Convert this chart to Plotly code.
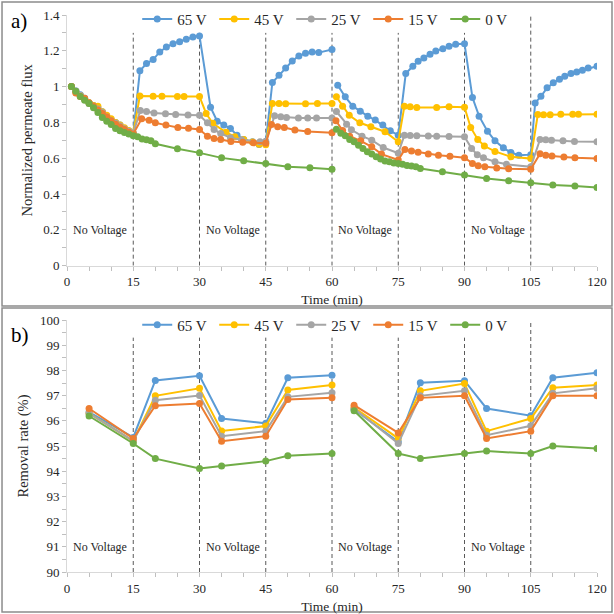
import plotly.graph_objects as go

# ---------------- data: panel a (normalized permeate flux) ----------------
seg1_t = [1, 2, 3, 4, 5, 6, 7, 8, 9, 10, 11, 12, 13, 14, 15]

t65 = seg1_t + [16.5, 18, 19.5, 21, 22.5, 24, 25.5, 27, 28.5, 30,
                32.5, 34, 35.5, 37, 38.5, 40, 42, 43.5, 45,
                46.5, 48, 49.5, 51, 52.5, 54, 55.5, 57, 60, None,
                61.3, 63, 64.7, 66.4, 68.1, 69.8, 71.5, 73.2, 75,
                76.7, 78.3, 79.5, 80.8, 82.2, 83.5, 85.1, 86.5, 88, 90,
                91.8, 93.3, 95.2, 96.9, 98.8, 100.5, 102.3, 105,
                106, 107.3, 108.7, 110.1, 111.5, 112.7, 114.1, 115.4, 116.7, 118, 120]
f65 = [1.0, 0.975, 0.955, 0.935, 0.91, 0.895, 0.88, 0.86, 0.835, 0.815, 0.80, 0.785, 0.765, 0.75, 0.74,
       1.088, 1.129, 1.151, 1.194, 1.221, 1.240, 1.251, 1.264, 1.277, 1.283,
       0.885, 0.807, 0.785, 0.766, 0.729, 0.705, 0.692, 0.677, 0.688,
       1.023, 1.063, 1.104, 1.143, 1.171, 1.186, 1.194, 1.19, 1.207, None,
       1.008, 0.943, 0.891, 0.863, 0.835, 0.813, 0.785, 0.753, 0.729,
       1.073, 1.114, 1.142, 1.160, 1.181, 1.199, 1.212, 1.225, 1.236, 1.240,
       0.939, 0.835, 0.751, 0.697, 0.658, 0.632, 0.617, 0.62,
       0.909, 0.946, 0.993, 1.021, 1.041, 1.058, 1.073, 1.082, 1.091, 1.104, 1.114]

t45 = seg1_t + [16.5, 19.5, 21.5, 25, 26.5, 30,
                31.5, 33, 36, 38, 40, 42, 43.5, 45,
                46.5, 48, 49.5, 54, 56.7, 60, None,
                61, 62.4, 63.9, 66.3, 68.8, 72, 75,
                76.4, 77.7, 79.2, 83.7, 86.5, 90,
                91.4, 93, 94.5, 96.9, 100.5, 105,
                106.6, 107.9, 109.4, 111.8, 114.5, 115.8, 120]
f45 = [1.0, 0.97, 0.95, 0.93, 0.91, 0.895, 0.89, 0.86, 0.84, 0.82, 0.80, 0.785, 0.77, 0.755, 0.74,
       0.948, 0.946, 0.946, 0.945, 0.945, 0.945,
       0.85, 0.795, 0.745, 0.72, 0.705, 0.69, 0.678, 0.675,
       0.905, 0.905, 0.904, 0.904, 0.905, 0.906, None,
       0.943, 0.891, 0.840, 0.798, 0.776, 0.748, 0.692,
       0.891, 0.887, 0.884, 0.884, 0.887, 0.885,
       0.772, 0.705, 0.668, 0.638, 0.608, 0.598,
       0.844, 0.843, 0.843, 0.845, 0.845, 0.846, 0.846]

t25 = seg1_t + [16.6, 18, 19.7, 22.3, 24.6, 27.4, 30,
                31.8, 33.3, 34.8, 37, 39.5, 43.7, 45,
                47, 48.4, 49.7, 52.4, 54.5, 56.5, 60, None,
                61, 63.3, 64.4, 66.8, 69, 71.6, 75,
                76.4, 77.7, 79.2, 81.8, 83.7, 86.5, 90,
                91.6, 92.9, 94.3, 96.9, 99.5, 105,
                107.1, 108.4, 109.7, 112.3, 114.9, 120]
f25 = [1.0, 0.975, 0.95, 0.93, 0.905, 0.89, 0.875, 0.855, 0.83, 0.81, 0.795, 0.78, 0.765, 0.75, 0.74,
       0.866, 0.861, 0.853, 0.848, 0.844, 0.842, 0.84,
       0.798, 0.761, 0.738, 0.715, 0.703, 0.692, 0.695,
       0.837, 0.831, 0.828, 0.825, 0.824, 0.824, 0.825, None,
       0.861, 0.79, 0.759, 0.723, 0.701, 0.66, 0.628,
       0.729, 0.727, 0.726, 0.724, 0.723, 0.721, 0.72,
       0.655, 0.619, 0.602, 0.58, 0.566, 0.552,
       0.705, 0.703, 0.70, 0.697, 0.694, 0.692]

t15 = seg1_t + [16.9, 18.6, 20, 22.4, 25.1, 27.5, 30,
                31.8, 33.3, 34.8, 37.1, 39.8, 42.2, 45,
                46.3, 47.7, 49.2, 51.6, 54.5, 60, None,
                60.9, 62.4, 64, 66.5, 69, 71.2, 75,
                76.5, 78, 79.5, 81.8, 84.1, 86.7, 90,
                91.8, 93.1, 94.6, 97.3, 100, 105,
                107.1, 108.4, 109.8, 112.5, 115, 120]
f15 = [1.0, 0.965, 0.945, 0.935, 0.91, 0.89, 0.87, 0.85, 0.83, 0.81, 0.79, 0.775, 0.76, 0.745, 0.735,
       0.82, 0.812, 0.798, 0.785, 0.772, 0.768, 0.761,
       0.723, 0.71, 0.705, 0.694, 0.689, 0.686, 0.683,
       0.789, 0.776, 0.771, 0.758, 0.749, 0.743, None,
       0.809, 0.755, 0.723, 0.697, 0.664, 0.623, 0.59,
       0.649, 0.64, 0.634, 0.623, 0.616, 0.611, 0.603,
       0.571, 0.558, 0.552, 0.545, 0.541, 0.538,
       0.625, 0.617, 0.612, 0.607, 0.602, 0.598]

t0 = seg1_t + [16, 17, 18, 19, 20, 25, 30, 35, 40, 45, 50, 55, 60, None,
               61, 62, 63, 64, 65, 66, 67, 68, 69, 70, 71, 72, 73, 74, 75,
               76, 77, 78, 79, 80, 85, 90, 95, 100, 105, 110, 115, 120]
f0 = [1.0, 0.974, 0.945, 0.924, 0.906, 0.882, 0.855, 0.828, 0.807, 0.789, 0.766, 0.753, 0.744, 0.735, 0.725,
      0.72, 0.708, 0.703, 0.697, 0.681, 0.653, 0.63, 0.602, 0.586, 0.571, 0.553, 0.547, 0.538, None,
      0.762, 0.74, 0.725, 0.705, 0.692, 0.673, 0.655, 0.636, 0.623, 0.608, 0.595, 0.584, 0.58, 0.574, 0.571,
      0.566, 0.56, 0.556, 0.552, 0.543, 0.524, 0.506, 0.487, 0.474, 0.463, 0.45, 0.445, 0.437]

# ---------------- data: panel b (removal rate) ----------------
tr = [5, 15, 20, 30, 35, 45, 50, 60, None, 65, 75, 80, 90, 95, 105, 110, 120]
r65 = [96.35, 95.34, 97.6, 97.79, 96.09, 95.9, 97.71, 97.81, None, 96.45, 95.17, 97.51, 97.59, 96.49, 96.2, 97.71, 97.91]
r45 = [96.3, 95.2, 96.99, 97.29, 95.6, 95.79, 97.22, 97.42, None, 96.53, 95.3, 97.19, 97.48, 95.59, 96.09, 97.31, 97.42]
r25 = [96.29, 95.2, 96.82, 97.0, 95.39, 95.59, 96.95, 97.11, None, 96.49, 95.1, 96.99, 97.19, 95.43, 95.8, 97.09, 97.29]
r15 = [96.49, 95.3, 96.6, 96.69, 95.19, 95.39, 96.85, 96.91, None, 96.62, 95.52, 96.91, 96.99, 95.3, 95.59, 96.99, 96.99]
r0 = [96.19, 95.1, 94.5, 94.11, 94.21, 94.4, 94.61, 94.7, None, 96.4, 94.7, 94.5, 94.7, 94.8, 94.7, 95.0, 94.9]

names = ["65 V", "45 V", "25 V", "15 V", "0 V"]
colors = ["#5B9BD5", "#FFC000", "#A5A5A5", "#ED7D31", "#70AD47"]
flux_t = [t65, t45, t25, t15, t0]
flux_v = [f65, f45, f25, f15, f0]
rem_v = [r65, r45, r25, r15, r0]

dividers = [15, 30, 45, 60, 75, 90, 105]
label_x = [7.5, 37.5, 67.5, 97.5]
x_ticks = [0, 15, 30, 45, 60, 75, 90, 105, 120]

FONT = "Liberation Serif"
TXT = "#262626"

fig = go.Figure()
for n, c, tt, vv in zip(names, colors, flux_t, flux_v):
    fig.add_trace(go.Scatter(x=tt, y=vv, name=n, mode="lines+markers",
                             line=dict(color=c, width=2), marker=dict(color=c, size=7),
                             xaxis="x", yaxis="y", legend="legend", connectgaps=False))
for n, c, vv in zip(names, colors, rem_v):
    fig.add_trace(go.Scatter(x=tr, y=vv, name=n, mode="lines+markers",
                             line=dict(color=c, width=2), marker=dict(color=c, size=7),
                             xaxis="x2", yaxis="y2", legend="legend2", connectgaps=False))

shapes = []
for d in dividers:
    top_a = 1.4 if d == 105 else 1.30
    top_b = 100 if d == 105 else 99.3
    shapes.append(dict(type="line", xref="x", yref="y", x0=d, x1=d, y0=0, y1=top_a,
                       line=dict(color="#595959", width=1, dash="4px,3px"), layer="below"))
    shapes.append(dict(type="line", xref="x2", yref="y2", x0=d, x1=d, y0=90, y1=top_b,
                       line=dict(color="#595959", width=1, dash="4px,3px"), layer="below"))
# panel frames
shapes.append(dict(type="rect", xref="paper", yref="paper", x0=-0.1226, x1=1.0283, y0=0.4776, y1=1.0233,
                   line=dict(color="#8c8c8c", width=1.5)))
shapes.append(dict(type="rect", xref="paper", yref="paper", x0=-0.1226, x1=1.0283, y0=-0.0718, y1=0.474,
                   line=dict(color="#8c8c8c", width=1.5)))

annotations = []
for lx in label_x:
    annotations.append(dict(x=lx, y=0.2, xref="x", yref="y", text="No Voltage", showarrow=False,
                            font=dict(family=FONT, size=12, color=TXT)))
    annotations.append(dict(x=lx, y=91, xref="x2", yref="y2", text="No Voltage", showarrow=False,
                            font=dict(family=FONT, size=12, color=TXT)))
annotations.append(dict(x=-0.11, y=0.990, xref="paper", yref="paper", text="a)", showarrow=False,
                        xanchor="left", yanchor="middle", font=dict(family=FONT, size=21, color="black")))
annotations.append(dict(x=-0.11, y=0.4255, xref="paper", yref="paper", text="b)", showarrow=False,
                        xanchor="left", yanchor="middle", font=dict(family=FONT, size=21, color="black")))

axis_common = dict(showline=True, linecolor="#d9d9d9", linewidth=1, ticks="outside", ticklen=4,
                   tickcolor="#bfbfbf", showgrid=False, zeroline=False, automargin=False,
                   tickfont=dict(family=FONT, size=13, color=TXT))

fig.update_layout(
    width=614, height=614,
    margin=dict(l=67, r=17, t=15, b=42, autoexpand=False),
    paper_bgcolor="white", plot_bgcolor="white",
    font=dict(family=FONT, color=TXT),
    showlegend=True,
    xaxis=dict(domain=[0, 1], anchor="y", range=[0, 120], tickvals=x_ticks,
               minor=dict(dtick=5, ticks="outside", ticklen=4, tickcolor="#bfbfbf"),
               title=dict(text="Time (min)", font=dict(family=FONT, size=13.5, color=TXT), standoff=6),
               **axis_common),
    yaxis=dict(domain=[0.55, 1.0], anchor="x", range=[0, 1.4], dtick=0.2,
               minor=dict(dtick=0.1, ticks="outside", ticklen=4, tickcolor="#bfbfbf"),
               title=dict(text="Normalized permeate flux", font=dict(family=FONT, size=14.5, color=TXT), standoff=7),
               **axis_common),
    xaxis2=dict(domain=[0, 1], anchor="y2", range=[0, 120], tickvals=x_ticks,
                minor=dict(dtick=5, ticks="outside", ticklen=4, tickcolor="#bfbfbf"),
                title=dict(text="Time (min)", font=dict(family=FONT, size=13.5, color=TXT), standoff=6),
                **axis_common),
    yaxis2=dict(domain=[0, 0.4524], anchor="x2", range=[90, 100], dtick=1,
                minor=dict(dtick=0.5, ticks="outside", ticklen=4, tickcolor="#bfbfbf"),
                title=dict(text="Removal rate (%)", font=dict(family=FONT, size=14.5, color=TXT), standoff=7),
                **axis_common),
    legend=dict(orientation="h", x=0.1325, y=0.9923, xanchor="left", yanchor="middle",
                bgcolor="rgba(0,0,0,0)", font=dict(family=FONT, size=15, color=TXT),
                entrywidth=32, entrywidthmode="pixels", tracegroupgap=0),
    legend2=dict(orientation="h", x=0.1325, y=0.4434, xanchor="left", yanchor="middle",
                 bgcolor="rgba(0,0,0,0)", font=dict(family=FONT, size=15, color=TXT),
                 entrywidth=32, entrywidthmode="pixels", tracegroupgap=0),
    shapes=shapes,
    annotations=annotations,
)

fig.write_html("out.html", config={"displayModeBar": False},
               post_script="document.body.style.margin='0';document.body.style.padding='0';")
